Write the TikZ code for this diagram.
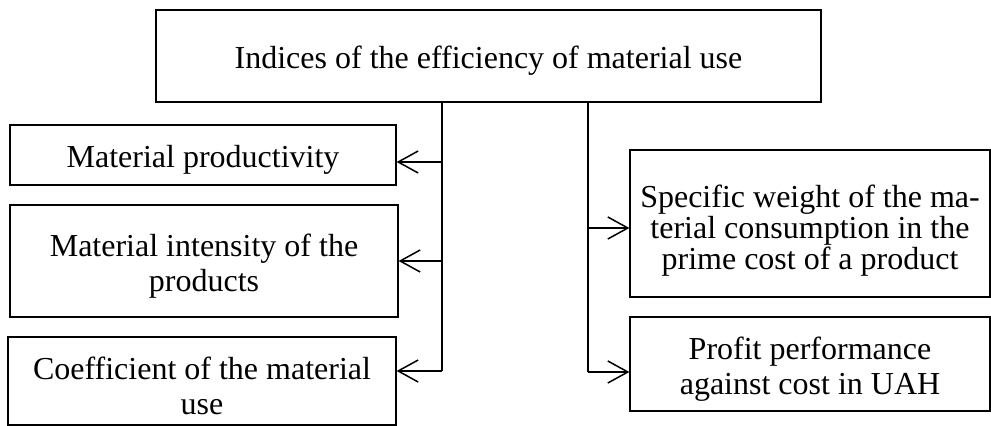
\documentclass[tikz,border=0pt]{standalone}
\usepackage{fontspec}
\setmainfont{Liberation Serif}
\usetikzlibrary{arrows.meta}
\newcommand{\topstrut}{\rule{0pt}{16pt}}

\begin{document}
\begin{tikzpicture}[x=0.5pt,y=-0.5pt,
  box/.style={draw,line width=0.6pt,align=center,inner sep=0pt,font=\fontsize{16}{17.5}\selectfont},
  link/.style={line width=0.75pt},
  >={Straight Barb[length=10pt,width=11pt]}]
\useasboundingbox (0,0) rectangle (991,426);

\node [box,minimum width=332.5pt,minimum height=46pt] (top) at (488.5,56) {\topstrut Indices of the efficiency of material use};
\node [box,minimum width=193pt,minimum height=30pt] (prod) at (203,155) {\topstrut Material productivity};
\node [box,minimum width=194pt,minimum height=56pt] (intens) at (204,261) {\topstrut Material intensity of the\\products};
\node [box,minimum width=194pt,minimum height=44pt] (coef) at (202,381) {\topstrut Coefficient of the material\\use};
\node [box,minimum width=180pt,minimum height=73.5pt,font=\fontsize{16}{15.5}\selectfont] (weight) at (810,223.5) {\rule{0pt}{18pt}Specific weight of the ma-\\terial consumption in the\\prime cost of a product};
\node [box,minimum width=180pt,minimum height=47pt] (profit) at (810,364) {\topstrut Profit performance\\against cost in UAH};

\coordinate (ltrunk) at (442,371);
\coordinate (rtrunk) at (588,372);
\coordinate (parr) at ([yshift=-3.5pt]prod.east);
\coordinate (warr) at ([yshift=-2.25pt]weight.west);
\draw [link] (top.south -| ltrunk) -- (ltrunk);
\draw [link] (top.south -| rtrunk) -- (rtrunk);
\draw [link] [->] (ltrunk |- parr) -- (parr);
\draw [link] [->] (ltrunk |- intens.east) -- (intens.east);
\draw [link] [->] (ltrunk) -- (ltrunk -| coef.east);
\draw [link] [->] (rtrunk |- warr) -- (warr);
\draw [link] [->] (rtrunk) -- (rtrunk -| profit.west);

\end{tikzpicture}
\end{document}
